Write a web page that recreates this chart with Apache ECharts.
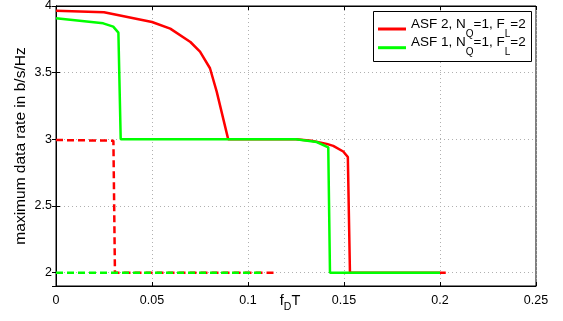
<!DOCTYPE html>
<html>
<head>
<meta charset="utf-8">
<script src="https://cdn.jsdelivr.net/npm/echarts@6/dist/echarts.min.js"></script>
<style>
  html, body { margin: 0; padding: 0; background: #fff; }
  #main { width: 563px; height: 321px; }
</style>
</head>
<body>
<div id="main"></div>
<script>
// legend entries (subscripts marked with _)
const legendNames = ['ASF 2, N_Q=1, F_L=2', 'ASF 1, N_Q=1, F_L=2'];

// ASF 2 (red)
const asf2 = [
  [0, 3.965], [0.025, 3.953], [0.034, 3.927], [0.05, 3.88], [0.0595, 3.83],
  [0.07, 3.73], [0.075, 3.658], [0.0802, 3.533], [0.0837, 3.358], [0.0897, 3.0],
  [0.125, 3.0], [0.133, 2.99], [0.141, 2.966], [0.1444, 2.951], [0.1496, 2.909],
  [0.152, 2.867], [0.1531, 2.0], [0.203, 2.0]
];
const asf2Dashed = [[0, 2.995], [0.0299, 2.99], [0.0307, 2.0], [0.114, 2.0]];

// ASF 1 (green)
const asf1 = [
  [0, 3.908], [0.0246, 3.87], [0.0298, 3.845], [0.0325, 3.8], [0.0337, 3.0],
  [0.125, 3.0], [0.1358, 2.98], [0.1418, 2.94], [0.1427, 2.0], [0.2, 2.0]
];
const asf1Dashed = [[0, 2.0], [0.108, 2.0]];

const font = 'Liberation Sans, Arial, Helvetica, sans-serif';

function subText(name) {
  // 'ASF 2, N_Q=1' -> rich tokens with subscripts
  return name.split(/_(\w)/).map((p, i) => i % 2 ? '{s|' + p + '}' : (p ? '{n|' + p + '}' : '')).join('');
}

const myChart = echarts.init(document.getElementById('main'));
const gridLine = { show: true, lineStyle: { color: '#b0b0b0', type: [1, 3], width: 1 } };
const boxTick = { show: true, inside: true, length: 4, lineStyle: { color: '#000' } };

myChart.setOption({
  animation: false,
  backgroundColor: '#fff',
  textStyle: { fontFamily: font },
  grid: {
    left: 56, right: 27, top: 6, bottom: 35, containLabel: false, outerBoundsMode: 'none',
    show: true, borderColor: '#000', borderWidth: 1
  },
  xAxis: [
    {
      type: 'value', min: 0, max: 0.25, interval: 0.05,
      name: 'f{s|D}T', nameLocation: 'middle', nameGap: 2, nameMoveOverlap: false,
      nameTextStyle: { color: '#000', fontSize: 14.5, padding: [0, 12, 0, 0],
        rich: { s: { fontSize: 10.5, padding: [14, 0, 0, 0] } } },
      axisLine: { lineStyle: { color: '#000' } },
      axisTick: boxTick,
      axisLabel: { color: '#000', fontSize: 12.5, margin: 8 },
      splitLine: gridLine
    },
    {
      type: 'value', position: 'top', min: 0, max: 0.25, interval: 0.05,
      axisLine: { lineStyle: { color: '#000' } },
      axisTick: boxTick, axisLabel: { show: false }, splitLine: { show: false }
    }
  ],
  yAxis: [
    {
      type: 'value', min: 1.9, max: 4, splitNumber: 4,
      name: 'maximum data rate in b/s/Hz', nameLocation: 'middle', nameGap: 27, nameMoveOverlap: false,
      nameTextStyle: { color: '#000', fontSize: 15.5 },
      axisLine: { show: true, lineStyle: { color: '#000' } },
      axisTick: boxTick,
      axisLabel: { color: '#000', fontSize: 12.5, margin: 4, showMinLabel: false },
      splitLine: gridLine
    },
    {
      type: 'value', position: 'right', min: 1.9, max: 4, splitNumber: 4,
      axisLine: { show: true, lineStyle: { color: '#000' } },
      axisTick: boxTick, axisLabel: { show: false }, splitLine: { show: false }
    }
  ],
  // white legend box with black frame
  graphic: [{
    type: 'rect', z: 3,
    shape: { x: 373.5, y: 11.5, width: 158, height: 50 },
    style: { fill: '#fff', stroke: '#000', lineWidth: 1 }
  }],
  legend: {
    data: legendNames, orient: 'vertical', left: 378, top: 17, padding: 0,
    itemGap: -5.3, itemWidth: 28, itemHeight: 3, icon: 'rect', z: 5,
    selectedMode: false,
    formatter: subText,
    textStyle: {
      color: '#000', fontSize: 13.5,
      rich: {
        n: { fontSize: 13.5, lineHeight: 14, padding: [0, 0, 10, 0] },
        s: { fontSize: 10, lineHeight: 11, padding: [10, 0, 0, 0] }
      }
    }
  },
  series: [
    { name: legendNames[0], type: 'line', data: asf2, color: '#ff0000', showSymbol: false,
      lineStyle: { width: 2.5 } },
    { name: 'ASF 2 dashed', type: 'line', data: asf2Dashed, color: '#ff0000', showSymbol: false,
      lineStyle: { width: 2.5, type: [7, 4] } },
    { name: legendNames[1], type: 'line', data: asf1, color: '#00ff00', showSymbol: false,
      lineStyle: { width: 2.5 } },
    { name: 'ASF 1 dashed', type: 'line', data: asf1Dashed, color: '#00ff00', showSymbol: false,
      lineStyle: { width: 2.5, type: [7, 4] } }
  ]
});
</script>
</body>
</html>
